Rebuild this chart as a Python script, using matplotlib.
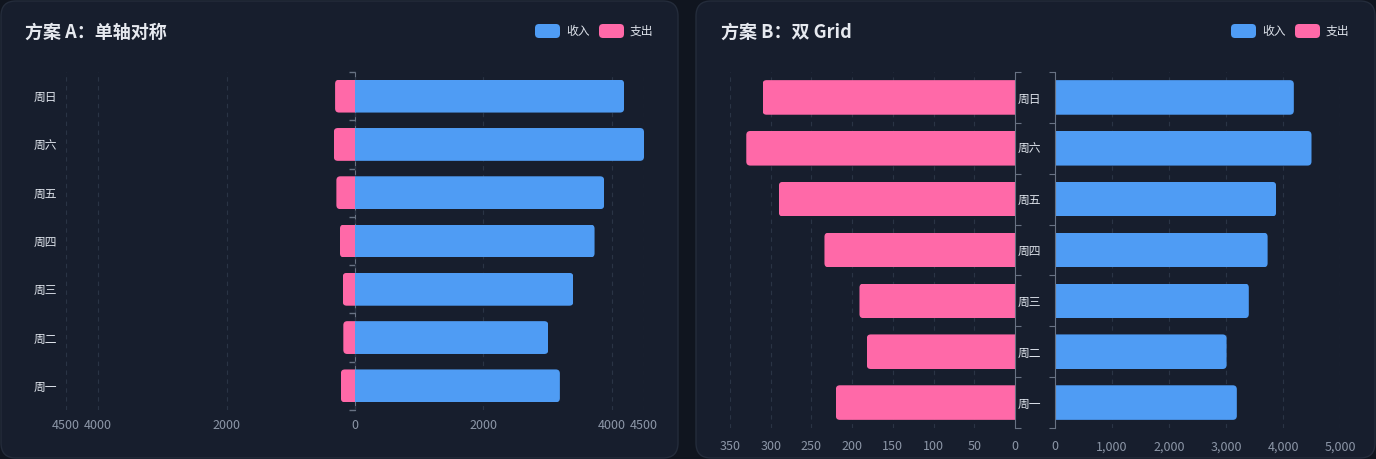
import numpy as np
import matplotlib
matplotlib.use("Agg")
import matplotlib.pyplot as plt
from matplotlib.patches import FancyBboxPatch
from matplotlib.ticker import FuncFormatter

plt.rcParams['font.family'] = ['Noto Sans CJK SC', 'DejaVu Sans']

# data (bottom -> top)
days = ['周一', '周二', '周三', '周四', '周五', '周六', '周日']
income = [3190, 3010, 3400, 3730, 3880, 4500, 4190]
expense = [220, 182, 191, 234, 290, 330, 310]
ticks_a = [-4500, -4000, -2000, 0, 2000, 4000, 4500]
ticks_b_left = [0, 50, 100, 150, 200, 250, 300, 350]
ticks_b_right = [0, 1000, 2000, 3000, 4000, 5000]

OUTER = '#10151f'
CARD = '#171e2d'
CARD_EDGE = '#242c3b'
BLUE = '#4f9cf4'
PINK = '#ff69a8'
GRID = '#2a3445'
AXIS = '#687283'
TICK = '#8c96a7'
LABEL = '#dde2ea'
TITLE = '#e6e9ef'

W, H = 1376, 459
fig = plt.figure(figsize=(W / 100, H / 100), dpi=100, facecolor=OUTER)


def fig_box(x0, y0, x1, y1):
    return [x0 / W, 1 - y1 / H, (x1 - x0) / W, (y1 - y0) / H]


# background layer in pixel units
bg = fig.add_axes([0, 0, 1, 1])
bg.set_xlim(0, W)
bg.set_ylim(H, 0)
bg.axis('off')
for x0, x1 in [(1, 678), (696, 1375)]:
    bg.add_patch(FancyBboxPatch((x0, 1), x1 - x0, H - 2,
                                boxstyle='round,pad=0,rounding_size=15',
                                facecolor=CARD, edgecolor=CARD_EDGE, lw=1))

bg.text(25, 32, '方案 A：单轴对称', color=TITLE, fontsize=13,
        fontweight='bold', va='center', ha='left')
bg.text(721, 32, '方案 B：双 Grid', color=TITLE, fontsize=13,
        fontweight='bold', va='center', ha='left')

for lx in [535, 1231]:
    for dx, col, name in [(0, BLUE, '收入'), (64, PINK, '支出')]:
        bg.add_patch(FancyBboxPatch((lx + dx, 24), 25, 14,
                                    boxstyle='round,pad=0,rounding_size=4',
                                    facecolor=col, edgecolor='none'))
        bg.text(lx + dx + 31, 31, name, color=LABEL, fontsize=8.5,
                va='center', ha='left')

y = np.arange(len(days))
bar_h = 0.68
bounds = np.arange(-0.5, len(days), 1)


def clip_round(ax, patches, x0, x1, yc, px_w, px_h, xspan, r_px=4):
    xpp = xspan / px_w
    ypp = len(days) / px_h
    r = r_px * xpp
    box = FancyBboxPatch((min(x0, x1), yc - bar_h / 2), abs(x1 - x0), bar_h,
                         boxstyle=f'round,pad=0,rounding_size={r}',
                         mutation_aspect=ypp / xpp, transform=ax.transData)
    for p in patches:
        p.set_clip_path(box)


def base_style(ax):
    ax.set_facecolor('none')
    for s in ax.spines.values():
        s.set_visible(False)
    ax.set_ylim(-0.5, len(days) - 0.5)
    ax.grid(axis='x', color=GRID, linestyle=(0, (4, 4)), lw=0.8)
    ax.set_axisbelow(True)
    ax.tick_params(axis='x', length=0, colors=TICK, labelsize=9, pad=6.5)


# ---- panel A: single symmetric axis
pa = (66, 72, 644, 410)
axA = fig.add_axes(fig_box(*pa))
base_style(axA)
exp_bars = axA.barh(y, [-e for e in expense], height=bar_h, color=PINK)
inc_bars = axA.barh(y, income, height=bar_h, color=BLUE)
for i in range(len(days)):
    clip_round(axA, [exp_bars[i], inc_bars[i]], -expense[i], income[i], y[i],
               pa[2] - pa[0], pa[3] - pa[1], 9000)
axA.set_xlim(-4500, 4500)
axA.set_xticks(ticks_a)
axA.xaxis.set_major_formatter(FuncFormatter(lambda v, p: f'{abs(v):.0f}'))
axA.set_yticks(y)
axA.set_yticklabels(days)
axA.tick_params(axis='y', length=0, colors=LABEL, labelsize=8.5, pad=6.5)

secA = axA.secondary_yaxis(0.5)
secA.set_yticks(bounds)
secA.set_yticklabels([])
secA.tick_params(length=4, direction='in', color=AXIS, width=1)
for s in secA.spines.values():
    s.set_color(AXIS)

# ---- panel B: two grids
pl = (730, 72, 1015, 428)
axL = fig.add_axes(fig_box(*pl))
base_style(axL)
lb = axL.barh(y, expense, height=bar_h, color=PINK)
for i in range(len(days)):
    clip_round(axL, [lb[i]], -20, expense[i], y[i], pl[2] - pl[0], pl[3] - pl[1], 350)
axL.set_xlim(350, 0)
axL.set_xticks(ticks_b_left)
axL.spines['right'].set_visible(True)
axL.spines['right'].set_color(AXIS)
axL.yaxis.tick_right()
axL.set_yticks(bounds)
axL.set_yticklabels([])
axL.tick_params(axis='y', length=4, direction='out', color=AXIS)
axL.tick_params(axis='x', pad=9)

pr = (1055, 72, 1340, 428)
axR = fig.add_axes(fig_box(*pr))
base_style(axR)
rb = axR.barh(y, income, height=bar_h, color=BLUE)
for i in range(len(days)):
    clip_round(axR, [rb[i]], -300, income[i], y[i], pr[2] - pr[0], pr[3] - pr[1], 5000)
axR.set_xlim(0, 5000)
axR.set_xticks(ticks_b_right)
axR.xaxis.set_major_formatter(FuncFormatter(lambda v, p: f'{v:,.0f}'))
axR.spines['left'].set_visible(True)
axR.spines['left'].set_color(AXIS)
axR.set_yticks(bounds)
axR.set_yticklabels([])
axR.tick_params(axis='y', which='major', length=4, direction='out', color=AXIS)
axR.set_yticks(y, minor=True)
axR.set_yticklabels(days, minor=True)
axR.tick_params(axis='y', which='minor', length=0, colors=LABEL, labelsize=8.5, pad=10)
axR.tick_params(axis='x', pad=9)

fig.savefig('out.png', dpi=100, facecolor=OUTER)
